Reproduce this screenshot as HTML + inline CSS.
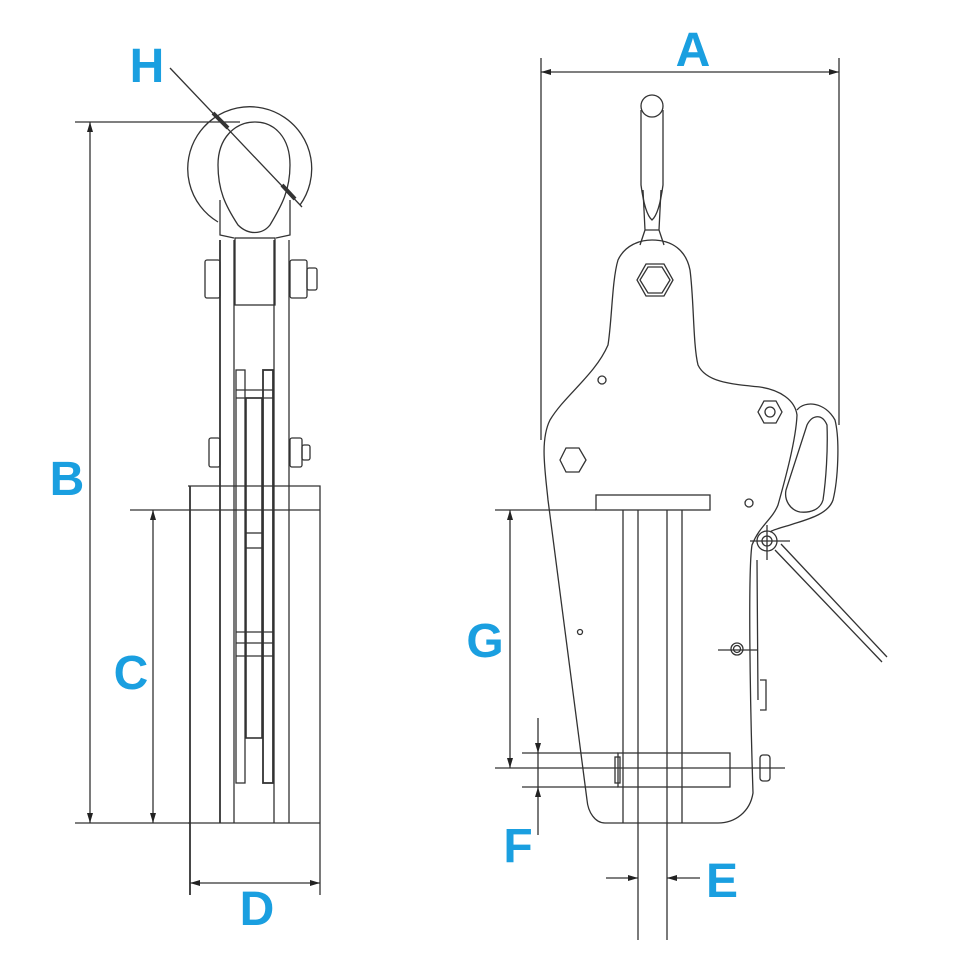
<!DOCTYPE html>
<html><head><meta charset="utf-8"><style>
html,body{margin:0;padding:0;background:#fff}
svg{display:block}
.t{font-family:"Liberation Sans",sans-serif;font-weight:bold;font-size:48px;fill:#1a9fe0}
</style></head><body>
<svg width="960" height="960" viewBox="0 0 960 960" xmlns="http://www.w3.org/2000/svg">
<defs>
<marker id="ar" viewBox="0 0 10 6" refX="10" refY="3" markerWidth="11" markerHeight="6" orient="auto-start-reverse" markerUnits="userSpaceOnUse"><path d="M0,0 L10,3 L0,6z" fill="#222"/></marker>
</defs>
<g fill="none" stroke="#333" stroke-width="1.3">
<!-- LEFT VIEW -->
<path d="M218,222 A62,62 0 1 1 300,205"/>
<path d="M238,225 C225,205 218,190 218,165 C218,138 235,122 255,122 C275,122 290,138 290,165 C290,190 282,205 270,225 C262,235 248,235 238,225z"/>
<path d="M220,200 L220,235 L234,238 M290,200 L290,235 L276,238"/>
<rect x="235" y="238" width="40" height="67"/>
<line x1="220" y1="240" x2="220" y2="823" stroke-width="1.8"/>
<line x1="234" y1="240" x2="234" y2="823"/>
<line x1="274" y1="240" x2="274" y2="823"/>
<line x1="289" y1="240" x2="289" y2="823"/>
<rect x="205" y="260" width="15" height="38" rx="2"/>
<rect x="290" y="260" width="17" height="38" rx="2"/>
<rect x="307" y="268" width="10" height="22" rx="2"/>
<rect x="209" y="438" width="11" height="29" rx="2"/>
<rect x="290" y="438" width="12" height="29" rx="2"/>
<rect x="302" y="445" width="8" height="15" rx="2"/>
<rect x="236" y="370" width="9" height="413"/>
<rect x="263" y="370" width="10" height="413" stroke-width="1.8"/>
<line x1="236" y1="390" x2="273" y2="390"/><line x1="236" y1="398" x2="273" y2="398"/>
<rect x="246" y="398" width="16" height="340" stroke-width="1.6"/>
<line x1="236" y1="632" x2="273" y2="632"/><line x1="236" y1="643" x2="273" y2="643"/><line x1="236" y1="656" x2="273" y2="656"/>
<line x1="246" y1="533" x2="262" y2="533"/><line x1="246" y1="548" x2="262" y2="548"/>
<path d="M188,486 L320,486 L320,823"/>
<line x1="190" y1="486" x2="190" y2="895" stroke-width="1.8"/>
<line x1="320" y1="823" x2="320" y2="895"/>
<line x1="188" y1="823" x2="320" y2="823"/>
<line x1="75" y1="122" x2="240" y2="122"/>
<line x1="75" y1="823" x2="190" y2="823"/>
<line x1="90" y1="122" x2="90" y2="823" marker-start="url(#ar)" marker-end="url(#ar)"/>
<line x1="130" y1="510" x2="320" y2="510"/>
<line x1="153" y1="510" x2="153" y2="823" marker-start="url(#ar)" marker-end="url(#ar)"/>
<line x1="190" y1="883" x2="320" y2="883" marker-start="url(#ar)" marker-end="url(#ar)"/>
<line x1="170" y1="68" x2="302" y2="207"/>
<path d="M213,113 L228,128" stroke-width="4"/>
<path d="M282,185 L295,199" stroke-width="4"/>

<!-- RIGHT VIEW -->
<line x1="541" y1="58" x2="541" y2="440"/>
<line x1="839" y1="58" x2="839" y2="425"/>
<line x1="541" y1="72" x2="839" y2="72" marker-start="url(#ar)" marker-end="url(#ar)"/>
<path d="M641,110 L641,185 C643,200 646,215 652,220 C658,215 661,200 663,185 L663,110"/>
<circle cx="652" cy="106" r="11"/>
<path d="M643,190 L645,230 L640,245 M661,190 L659,230 L664,245 M645,230 L659,230"/>
<path d="M548,500 C545,470 540,440 550,420 C565,395 595,375 608,345 C612,320 612,280 618,260 C625,245 640,240 652,240 C672,240 686,250 690,270 C694,300 693,345 698,365 C706,382 730,384 760,387 C780,390 795,400 797,415 C796,440 785,480 778,505 C772,520 760,525 752,545 C748,570 750,700 753,793 C750,812 735,823 718,823 L605,823 C595,823 588,812 587,800 Z"/>
<path d="M797,410 C805,400 825,402 835,420 C840,440 838,480 833,500 C828,515 805,520 790,525 C780,528 772,530 770,532"/>
<path d="M807,425 C812,415 822,413 827,425 C828,450 826,480 823,500 C820,510 810,513 800,512 C790,510 784,500 786,490 Z"/>
<path d="M757,560 L758,700 M760,680 L766,680 L766,710 L760,710"/>
<polygon points="673,280 664,296 646,296 637,280 646,264 664,264"/>
<polygon points="670,280 662,293 648,293 640,280 648,267 662,267"/>
<polygon points="782,412 776,423 764,423 758,412 764,401 776,401"/>
<circle cx="770" cy="412" r="5"/>
<polygon points="586,460 579,472 566,472 560,460 566,448 579,448"/>
<circle cx="602" cy="380" r="4"/>
<circle cx="749" cy="503" r="4"/>
<circle cx="580" cy="632" r="2.5"/>
<circle cx="737" cy="649" r="6"/>
<circle cx="737" cy="649" r="3.5"/>
<line x1="718" y1="650" x2="758" y2="650"/>
<circle cx="767" cy="541" r="10"/>
<circle cx="767" cy="541" r="5"/>
<line x1="750" y1="541" x2="790" y2="541"/><line x1="767" y1="525" x2="767" y2="560"/>
<path d="M775,550 L882,662 M781,544 L887,657"/>
<rect x="596" y="495" width="114" height="15"/>
<line x1="495" y1="510" x2="596" y2="510"/>
<line x1="623" y1="510" x2="623" y2="823"/>
<line x1="638" y1="510" x2="638" y2="940"/>
<line x1="667" y1="510" x2="667" y2="940"/>
<line x1="682" y1="510" x2="682" y2="823"/>
<rect x="618" y="753" width="112" height="34"/>
<rect x="615" y="757" width="5" height="26"/>
<line x1="522" y1="753" x2="618" y2="753"/>
<line x1="522" y1="787" x2="618" y2="787"/>
<line x1="495" y1="768" x2="785" y2="768"/>
<rect x="760" y="755" width="10" height="26" rx="3"/>
<line x1="510" y1="510" x2="510" y2="768" marker-start="url(#ar)" marker-end="url(#ar)"/>
<line x1="538" y1="718" x2="538" y2="753" marker-end="url(#ar)"/>
<line x1="538" y1="835" x2="538" y2="787" marker-end="url(#ar)"/>
<line x1="538" y1="753" x2="538" y2="787"/>
<line x1="606" y1="878" x2="638" y2="878" marker-end="url(#ar)"/>
<line x1="700" y1="878" x2="667" y2="878" marker-end="url(#ar)"/>
</g>
<text class="t" x="147" y="82" text-anchor="middle">H</text>
<text class="t" x="67" y="495" text-anchor="middle">B</text>
<text class="t" x="131" y="689" text-anchor="middle">C</text>
<text class="t" x="257" y="925" text-anchor="middle">D</text>
<text class="t" x="693" y="66" text-anchor="middle">A</text>
<text class="t" x="485" y="657" text-anchor="middle">G</text>
<text class="t" x="518" y="862" text-anchor="middle">F</text>
<text class="t" x="722" y="897" text-anchor="middle">E</text>
</svg>
</body></html>
